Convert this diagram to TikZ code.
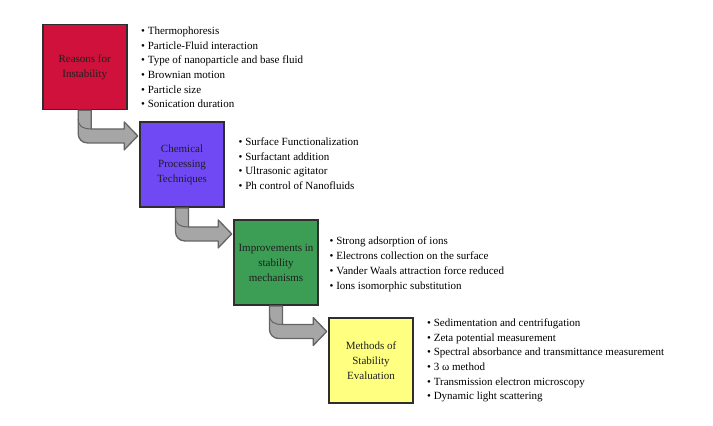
\documentclass[tikz,border=0pt]{standalone}
\usepackage{fontspec}
\setmainfont{Liberation Serif}
\usetikzlibrary{calc}

\definecolor{stagered}{HTML}{D0113B}
\definecolor{stagepurple}{HTML}{7049F5}
\definecolor{stagegreen}{HTML}{3C9D55}
\definecolor{stageyellow}{HTML}{FFFF80}
\definecolor{arrowgray}{HTML}{A6A6A6}
\definecolor{arrowedge}{HTML}{646464}

\tikzset{
  stage/.style={draw=black!82, line width=1.6bp, minimum width=84bp, minimum height=85bp,
    inner sep=0pt, align=center, text=black!88, font=\fontsize{11bp}{15bp}\selectfont},
  itemlist/.style={anchor=north west, inner sep=0pt, align=left,
    font=\fontsize{11bp}{14.7bp}\selectfont},
  arrowbody/.style={fill=arrowgray, draw=arrowedge, line width=1.3bp, line join=round}
}

% gray bent arrow from the bottom of one stage to the left side of the next
\newcommand{\bentarrow}[2]{%
  \filldraw[arrowbody] let \p1=(#1.south), \p2=(#2.north west) in
    (\x1-6.5bp,\y1) -- (\x1+6.5bp,\y1) -- (\x1+6.5bp,\y2-7.5bp)
    -- (\x2-15bp,\y2-7.5bp) -- (\x2-15bp,\y2-0.5bp) -- (\x2-1.5bp,\y2-14.5bp)
    -- (\x2-15bp,\y2-28.5bp) -- (\x2-15bp,\y2-21.5bp) -- (\x1+2.5bp,\y2-21.5bp)
    arc[start angle=270, end angle=180, radius=9bp] -- cycle;
  \draw[arrowedge, line width=1bp] let \p1=(#1.south), \p2=(#2.north west) in
    (\x1-6.5bp,\y2+2.5bp) .. controls (\x1-6.5bp,\y2-5bp) and (\x1-2bp,\y2-7.5bp) .. (\x1+6.5bp,\y2-7.5bp);
}

\begin{document}
\begin{tikzpicture}[x=1bp,y=-1bp]
  \useasboundingbox (0,0) rectangle (713,425);

  % stages
  \node[stage, fill=stagered] (reasons) at (84.7,67) {Reasons for\\Instability};
  \node[stage, fill=stagepurple] (chem) at (182,164.7) {Chemical\\Processing\\Techniques};
  \node[stage, fill=stagegreen] (improv) at (276,262.7) {Improvements in\\stability\\mechanisms};
  \node[stage, fill=stageyellow] (methods) at (371,360.3) {Methods of\\Stability\\Evaluation};

  % connectors
  \bentarrow{reasons}{chem}
  \bentarrow{chem}{improv}
  \bentarrow{improv}{methods}

  % bullet lists
  \node[itemlist] (reasonslist) at (141,26.5) {\textbullet\ Thermophoresis\\
    \textbullet\ Particle-Fluid interaction\\
    \textbullet\ Type of nanoparticle and base fluid\\
    \textbullet\ Brownian motion\\
    \textbullet\ Particle size\\
    \textbullet\ Sonication duration};
  \node[itemlist] (chemlist) at (238.5,137.5) {\textbullet\ Surface Functionalization\\
    \textbullet\ Surfactant addition\\
    \textbullet\ Ultrasonic agitator\\
    \textbullet\ Ph control of Nanofluids};
  \node[itemlist] (improvlist) at (329.5,237) {\textbullet\ Strong adsorption of ions\\
    \textbullet\ Electrons collection on the surface\\
    \textbullet\ Vander Waals attraction force reduced\\
    \textbullet\ Ions isomorphic substitution};
  \node[itemlist] (methodslist) at (427,318.5) {\textbullet\ Sedimentation and centrifugation\\
    \textbullet\ Zeta potential measurement\\
    \textbullet\ Spectral absorbance and transmittance measurement\\
    \textbullet\ 3 ω method\\
    \textbullet\ Transmission electron microscopy\\
    \textbullet\ Dynamic light scattering};
\end{tikzpicture}
\end{document}
